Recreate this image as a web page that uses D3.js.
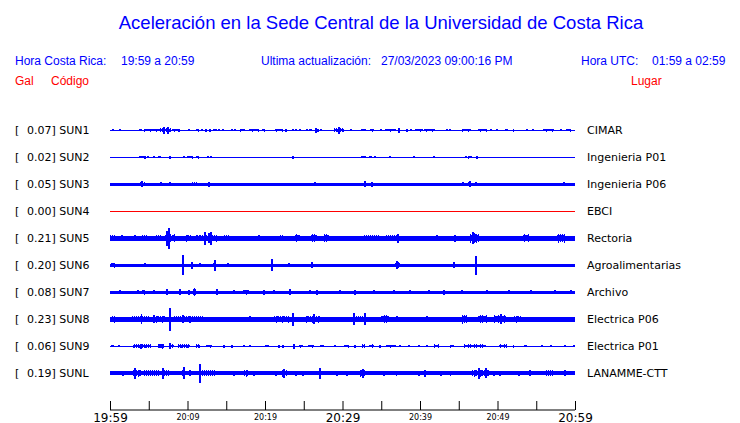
<!DOCTYPE html>
<html><head><meta charset="utf-8">
<script src="https://cdn.jsdelivr.net/npm/d3@7"></script>
<style>
html,body{margin:0;padding:0;background:#fff;}
svg{display:block;}
</style>
</head><body>
<script>
// ---------- DATA ----------
const codes  = ["SUN1","SUN2","SUN3","SUN4","SUN5","SUN6","SUN7","SUN8","SUN9","SUNL"];
const places = ["CIMAR","Ingenieria P01","Ingenieria P06","EBCI","Rectoria","Agroalimentarias","Archivo","Electrica P06","Electrica P01","LANAMME-CTT"];
const peaks  = [0.07,0.02,0.05,0.00,0.21,0.20,0.08,0.23,0.06,0.19];   // Gal
const online = [true,true,true,false,true,true,true,true,true,true];
// background noise half-amplitude (Gal)
const baseAmp = [0.01,0.01,0.03,0,0.045,0.03,0.03,0.05,0.01,0.036];
// bursts: [start minute, end minute, half-amplitude Gal]
const sun1Events = [[0.35,0.35,0.02],[1.2,1.2,0.015],[3.8,4.1,0.03],[4.5,5.6,0.03],[5.8,6.2,0.03],[6.4,7.8,0.04],[6.9,6.9,0.07],[7.4,7.4,0.07],[8.1,8.7,0.03],[8.9,8.9,0.03],[10.1,10.1,0.02],[11.1,11.4,0.03],[11.8,11.8,0.02],[12.3,12.3,0.03],[12.8,13.0,0.03],[13.3,13.3,0.02],[13.6,13.6,0.02],[14.0,14.0,0.02],[14.5,14.5,0.02],[15.7,15.7,0.02],[16.1,16.1,0.02],[16.9,17.4,0.03],[18.0,19.1,0.03],[19.7,19.9,0.03],[21.4,22.2,0.03],[22.7,22.7,0.03],[23.6,23.6,0.02],[23.9,23.9,0.02],[24.4,24.4,0.02],[25.3,25.3,0.02],[25.7,26.0,0.03],[26.5,26.5,0.05],[26.8,26.8,0.03],[27.2,27.2,0.02],[29.0,30.1,0.04],[29.5,29.5,0.07],[31.0,31.0,0.02],[32.5,33.0,0.03],[33.6,34.0,0.03],[34.9,34.9,0.02],[35.5,36.8,0.03],[37.2,37.2,0.05],[38.2,38.2,0.03],[38.8,38.8,0.02],[39.4,40.3,0.03],[40.6,41.9,0.03],[43.4,43.4,0.02],[43.8,43.8,0.02],[45.5,46.5,0.03],[47.5,48.6,0.03],[49.1,49.1,0.02],[49.9,49.9,0.02],[51.0,51.3,0.03],[52.0,52.0,0.03],[53.8,53.8,0.02],[54.5,54.5,0.02],[55.9,57.2,0.03],[58.1,58.1,0.02],[58.9,59.4,0.03]];
const sun2Events = [[3.8,4.3,0.03],[4.5,4.5,0.03],[4.8,4.8,0.02],[5.6,5.6,0.02],[6.2,6.5,0.02],[7.7,7.7,0.03],[9.5,9.5,0.015],[10.0,10.7,0.03],[11.2,11.4,0.03],[12.6,12.6,0.02],[13.0,13.0,0.015],[23.5,23.5,0.03],[32.5,33.0,0.03],[33.5,33.8,0.03],[34.1,34.1,0.02],[36.1,36.1,0.02],[39.1,39.1,0.015],[41.7,41.7,0.02],[45.9,45.9,0.02],[46.2,46.7,0.03],[47.3,47.3,0.03]];
const sun3Events = [[3.8,4.5,0.04],[4.1,4.1,0.06],[6.5,6.5,0.04],[7.7,7.7,0.04],[10.6,11.2,0.04],[12.7,12.7,0.05],[26.4,26.4,0.035],[32.8,32.8,0.06],[33.7,33.7,0.05],[45.5,45.5,0.035],[46.2,46.6,0.045],[46.4,46.4,0.06],[47.2,47.2,0.04],[58.5,58.5,0.035]];
const sun4Events = [];
const sun5Events = [[0,0.6,0.06],[1.5,1.5,0.055],[2.3,2.5,0.055],[3.2,3.2,0.055],[4.1,4.7,0.06],[6.0,6.7,0.06],[7.1,7.8,0.09],[7.3,7.3,0.15],[7.5,7.5,0.21],[8.0,8.3,0.08],[9.7,10.5,0.07],[11.2,11.2,0.06],[11.6,13.8,0.07],[12.2,12.2,0.13],[12.7,12.7,0.1],[13.0,13.0,0.13],[14.8,15.3,0.06],[16.2,16.6,0.05],[17.6,18.7,0.05],[19.2,19.2,0.06],[21.9,22.4,0.06],[23.9,24.5,0.08],[26.0,26.7,0.08],[27.7,28.2,0.08],[29.5,30.0,0.05],[32.9,34.6,0.06],[35.7,37.2,0.06],[37.1,37.1,0.09],[42.1,42.1,0.06],[44.5,44.5,0.07],[46.5,47.5,0.1],[46.8,46.8,0.115],[50.7,50.7,0.05],[53.3,54.0,0.08],[57.8,58.7,0.09]];
const sun6Events = [[0.2,0.6,0.05],[4.5,4.5,0.04],[7.7,7.7,0.03],[9.3,9.3,0.2],[10.5,10.5,0.07],[11.6,11.6,0.04],[13.4,13.6,0.06],[13.5,13.5,0.11],[15.1,15.1,0.04],[20.8,20.8,0.12],[23.0,23.0,0.04],[26.0,26.0,0.06],[36.8,37.4,0.06],[37.0,37.0,0.08],[44.3,44.3,0.06],[47.2,47.2,0.19],[55.4,55.4,0.03]];
const sun7Events = [[1.2,1.2,0.045],[3.5,3.5,0.045],[4.2,4.5,0.05],[5.6,5.6,0.045],[7.3,7.3,0.06],[9.0,9.0,0.06],[10.1,10.1,0.05],[10.8,11.0,0.08],[13.7,13.7,0.06],[15.9,15.9,0.045],[17.2,17.9,0.05],[19.8,19.8,0.05],[21.1,21.1,0.045],[23.2,23.2,0.06],[25.8,25.8,0.045],[26.7,26.7,0.05],[29.6,29.6,0.04],[31.6,31.6,0.05],[34.0,34.0,0.045],[36.6,36.6,0.045],[38.7,38.7,0.045],[41.1,41.1,0.045],[43.0,43.0,0.05],[45.4,45.4,0.04],[48.6,48.6,0.045],[51.4,51.4,0.045],[54.2,54.2,0.04],[57.4,57.4,0.045],[59.4,59.4,0.04]];
const sun8Events = [[0.2,0.6,0.07],[2.9,5.0,0.06],[4.0,4.0,0.1],[5.7,7.0,0.07],[5.6,5.6,0.08],[7.65,7.65,0.23],[8.2,12.0,0.06],[9.4,9.4,0.08],[10.2,10.2,0.07],[15.2,17.6,0.05],[18.0,18.0,0.06],[21.2,23.0,0.07],[23.5,23.5,0.13],[25.4,27.0,0.07],[26.2,26.2,0.1],[28.5,30.2,0.05],[31.4,32.9,0.06],[31.4,31.4,0.12],[32.9,32.9,0.12],[35.0,35.9,0.08],[37.0,37.0,0.06],[40.8,40.8,0.06],[42.1,42.1,0.05],[45.5,46.0,0.09],[47.6,48.6,0.08],[49.6,51.0,0.08],[50.4,50.4,0.1],[52.0,53.0,0.07],[54.8,56.4,0.05],[58.5,58.5,0.05]];
const sun9Events = [[0.2,0.4,0.03],[1.1,1.1,0.025],[3.0,5.2,0.04],[3.9,3.9,0.05],[6.2,6.9,0.05],[7.65,7.65,0.06],[7.7,8.2,0.04],[8.8,10.3,0.04],[11.2,11.6,0.04],[12.5,13.1,0.03],[14.6,14.6,0.03],[15.7,15.7,0.03],[17.2,17.2,0.025],[18.0,18.0,0.025],[20.1,20.4,0.03],[21.7,21.7,0.03],[22.3,22.3,0.03],[23.7,23.7,0.05],[24.5,24.9,0.03],[25.6,26.2,0.03],[27.1,27.5,0.03],[29.0,29.0,0.025],[30.2,30.8,0.03],[31.6,31.6,0.03],[32.6,32.9,0.04],[33.5,34.0,0.035],[34.8,34.8,0.03],[35.7,36.8,0.03],[37.4,37.4,0.025],[38.5,38.5,0.025],[39.8,39.8,0.025],[40.9,40.9,0.025],[41.9,42.4,0.035],[43.9,44.3,0.03],[45.8,48.4,0.035],[50.2,51.2,0.035],[52.0,52.0,0.03],[53.5,53.8,0.03],[55.7,55.7,0.025],[56.8,56.8,0.025],[58.7,58.7,0.02],[59.8,59.8,0.02]];
const sunlEvents = [[1.6,1.6,0.05],[3.0,4.1,0.07],[3.2,3.2,0.11],[4.5,6.2,0.06],[6.7,7.1,0.07],[6.8,6.8,0.11],[7.3,7.7,0.06],[9.2,9.7,0.06],[9.5,9.5,0.12],[10.3,10.3,0.06],[11.5,11.5,0.19],[11.8,13.5,0.06],[15.9,15.9,0.05],[17.4,17.8,0.07],[18.5,18.5,0.05],[21.3,21.3,0.05],[22.2,22.8,0.07],[22.4,22.4,0.09],[23.9,23.9,0.05],[24.9,24.9,0.05],[27.0,27.0,0.11],[29.2,29.2,0.05],[30.5,30.5,0.05],[32.3,32.9,0.07],[32.6,32.6,0.09],[35.3,35.3,0.05],[36.8,37.4,0.05],[39.8,39.8,0.05],[40.6,40.6,0.07],[42.6,42.6,0.05],[43.9,44.5,0.05],[46.7,48.8,0.07],[47.6,47.6,0.11],[48.4,48.4,0.1],[49.5,49.5,0.05],[50.3,50.3,0.05],[52.7,52.7,0.05],[54.1,54.1,0.06],[56.3,57.2,0.06],[58.7,58.7,0.06]];
const allEvents = [sun1Events,sun2Events,sun3Events,sun4Events,sun5Events,sun6Events,sun7Events,sun8Events,sun9Events,sunlEvents];

const tickMinutes = [0,5,10,15,20,25,30,35,40,45,50,55,60];
const tickLabels  = ["19:59","","20:09","","20:19","","20:29","","20:39","","20:49","","20:59"];
const majorLabels = ["19:59","20:29","20:59"];

// ---------- DRAW ----------
const W = 740, H = 423;
const BLUE = "#0000ff", RED = "#ff0000";
const svg = d3.select("body").append("svg").attr("width", W).attr("height", H);

svg.append("text").attr("x", 381).attr("y", 29).attr("text-anchor","middle")
  .style("font-family","'Liberation Sans', Arial, sans-serif").style("font-size","18.5px")
  .attr("fill", BLUE).text("Aceleración en la Sede Central de la Universidad de Costa Rica");

const hdr = [
  ["Hora Costa Rica:", 15, 64.5, BLUE], ["19:59 a 20:59", 121, 64.5, BLUE],
  ["Ultima actualización:", 261, 64.5, BLUE], ["27/03/2023 09:00:16 PM", 381, 64.5, BLUE],
  ["Hora UTC:", 581, 64.5, BLUE], ["01:59 a 02:59", 652, 64.5, BLUE],
  ["Gal", 15, 84.5, RED], ["Código", 51, 84.5, RED], ["Lugar", 631, 84.5, RED]
];
svg.selectAll("text.hdr").data(hdr).join("text").attr("class","hdr")
  .attr("x", d => d[1]).attr("y", d => d[2]).attr("fill", d => d[3])
  .style("font-family","'Liberation Sans', Arial, sans-serif").style("font-size","12px")
  .text(d => d[0]);

const x = d3.scaleLinear().domain([0, 60]).range([110, 575]);
const y = d3.scalePoint().domain(codes).range([130, 373]);
const amp = d3.scaleLinear().domain([-0.25, 0.25]).range([12.5, -12.5]);

const rows = svg.selectAll("g.row").data(codes).join("g").attr("class","row")
  .attr("transform", d => `translate(0,${y(d)})`);

rows.append("text").attr("x", 15).attr("y", 4)
  .style("font-family","'DejaVu Sans', sans-serif").style("font-size","11px").attr("fill","#000").text("[");
rows.append("text").attr("x", 27).attr("y", 4)
  .style("font-family","'DejaVu Sans', sans-serif").style("font-size","11px").attr("fill","#000")
  .text((d,i) => `${peaks[i].toFixed(2)}] ${d}`);
rows.append("text").attr("x", 587).attr("y", 4)
  .style("font-family","'DejaVu Sans', sans-serif").style("font-size","11px").attr("fill","#000")
  .text((d,i) => places[i]);

const traces = rows.append("g").attr("shape-rendering","crispEdges")
  .attr("fill", (d,i) => online[i] ? BLUE : RED);

// background band (snapped to whole pixels)
const bandH = i => Math.max(Math.round(amp(-baseAmp[i]) - amp(baseAmp[i])), 1);
traces.append("rect")
  .attr("x", x(0)).attr("width", x(60) - x(0))
  .attr("y", (d,i) => -Math.floor(bandH(i) / 2))
  .attr("height", (d,i) => bandH(i));

// bursts: drawn as a comb of 1px strokes so wide bursts keep a jagged look
const combShape = [1, 0.75, 0.9, 0.65, 0.85, 0.7];
traces.each(function(d, i) {
  const g = d3.select(this);
  allEvents[i].forEach(e => {
    const x0 = x(e[0]), x1 = Math.max(x(e[1]), x0 + 1);
    const cols = d3.range(Math.floor(x0), Math.ceil(x1));
    const f = c => cols.length < 3 ? 1 : combShape[c % combShape.length];
    g.selectAll(null).data(cols).join("rect")
      .attr("x", c => c).attr("width", 1)
      .attr("y", c => amp(e[2] * f(c)))
      .attr("height", c => amp(-e[2] * f(c)) - amp(e[2] * f(c)));
  });
});

// time axis
const axisG = svg.append("g").attr("transform","translate(0,410)")
  .call(d3.axisBottom(x).tickValues(tickMinutes).tickSize(-9).tickPadding(3)
        .tickFormat((m,i) => tickLabels[i]));
axisG.select(".domain").attr("stroke","#000").attr("d", `M${x(0)},0H${x(60)}`);
axisG.selectAll(".tick line").attr("stroke","#000");
axisG.selectAll(".tick text").attr("fill","#000").attr("dy", null)
  .style("font-family","'DejaVu Sans', sans-serif")
  .style("font-size", function(){ return majorLabels.includes(this.textContent) ? "12px" : "8px"; })
  .attr("y", function(){ return majorLabels.includes(this.textContent) ? 11.5 : 9.5; });
</script>
</body></html>
